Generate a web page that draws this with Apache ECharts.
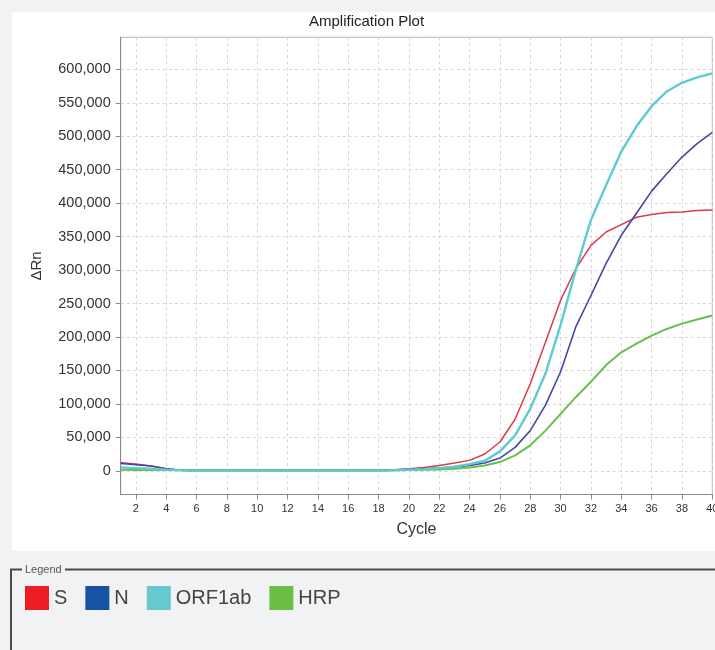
<!DOCTYPE html>
<html>
<head>
<meta charset="utf-8">
<script src="https://cdn.jsdelivr.net/npm/echarts@6/dist/echarts.min.js"></script>
<style>html,body{margin:0;padding:0;background:#f1f2f4;}#c{width:715px;height:650px;}</style>
</head>
<body>
<div id="c"></div>
<script>
const cycles = [1,2,3,4,5,6,7,8,9,10,11,12,13,14,15,16,17,18,19,20,21,22,23,24,25,26,27,28,29,30,31,32,33,34,35,36,37,38,39,40];
const S = [12000,10000,7000,3000,800,0,-300,-300,-300,-300,-300,-300,-300,-300,-300,-300,-200,500,1500,3000,5000,8000,11500,15500,25000,43000,77000,130000,192000,255000,302000,337000,357000,368000,379000,383000,386000,387000,389000,390000];
const N = [11000,9000,7000,3000,800,0,-300,-300,-300,-300,-300,-300,-300,-300,-300,-300,-200,300,1000,2000,3000,4000,5500,8000,11500,19000,35000,60000,98000,148000,215000,262000,310000,352000,385000,418000,444000,469000,489000,506000];
const ORF1ab = [5000,4000,3000,1500,500,0,0,0,0,0,0,0,0,0,0,0,0,0,500,1500,2500,4000,6000,10000,15000,29000,53000,93000,145000,218000,300000,375000,427000,477000,515000,545000,567000,580000,588000,594000];
const HRP = [1500,1200,1000,1000,1000,1000,1000,1000,1000,1000,1000,1000,1000,1000,1000,1000,1000,1000,1000,1200,1500,2000,3000,5000,8000,13000,23000,38000,60000,85000,110000,133000,158000,177000,190000,202000,212000,220000,226000,232000];
const xTicks = [2,4,6,8,10,12,14,16,18,20,22,24,26,28,30,32,34,36,38,40];
const yTicks = [0,50000,100000,150000,200000,250000,300000,350000,400000,450000,500000,550000,600000];
const seriesNames = ['S','N','ORF1ab','HRP'];
const lineColors = ['#de3a4a','#4646a8','#5ecbd3','#68bf50'];
const legendColors = ['#ee1c25','#1753a5','#66c9d0','#6cbf45'];
const lineWidths = [1.5,1.6,2.4,2];
const values = [S, N, ORF1ab, HRP];

const font = 'Liberation Sans, Arial, sans-serif';
const chart = echarts.init(document.getElementById('c'), null, {renderer:'canvas'});
chart.setOption({
  backgroundColor: '#f1f2f4',
  animation: false,
  textStyle: {fontFamily: font},
  title: {
    text: 'Amplification Plot', left: 309, top: 14, padding: 0,
    textStyle: {fontSize: 15, fontWeight: 'normal', color: '#222', fontFamily: font}
  },
  graphic: [
    {type:'rect', z:-10, shape:{x:12, y:12, width:703, height:539}, style:{fill:'#ffffff'}},
    {type:'polyline', z:-5, shape:{points:[[65,569.5],[715,569.5]]}, style:{stroke:'#4a4a4a', lineWidth:2}},
    {type:'polyline', z:-5, shape:{points:[[22,569.5],[11,569.5],[11,650]]}, style:{stroke:'#4a4a4a', lineWidth:2}},
    {type:'text', z:-5, x:25, y:569.5, style:{text:'Legend', fontSize:11, fill:'#555', fontFamily:font, verticalAlign:'middle'}}
  ],
  legend: {
    left: 25, top: 586, padding: 0, itemWidth: 24, itemHeight: 24, itemGap: 18,
    icon: 'rect', selectedMode: false,
    itemStyle: {borderWidth: 0},
    textStyle: {fontSize: 20, color: '#444', fontFamily: font},
    data: seriesNames.map((n,i)=>({name:n, itemStyle:{color:legendColors[i], borderWidth:0}}))
  },
  grid: {left: 120.7, right: 2.7, top: 37.3, bottom: 155.5, show: true, borderColor: '#b5b5b5', borderWidth: 1,
    backgroundColor: 'transparent', containLabel: false, outerBoundsMode: 'none'},
  xAxis: {
    type: 'value', min: 1, max: 40,
    name: 'Cycle', nameLocation: 'middle', nameGap: 27,
    nameTextStyle: {fontSize: 16, color: '#333', fontFamily: font},
    axisLine: {show: true, onZero: false, lineStyle: {color: '#8a8a8a'}},
    axisTick: {show: true, length: 5, customValues: xTicks, lineStyle: {color: '#8a8a8a'}},
    axisLabel: {customValues: xTicks, fontSize: 11, color: '#333', margin: 9, fontFamily: font, hideOverlap: false},
    splitLine: {show: true, lineStyle: {type: [3,3], color: '#d6d6d6'}}
  },
  yAxis: {
    type: 'value', min: -35500, max: 648000,
    name: 'ΔRn', nameLocation: 'middle', nameGap: 76, nameRotate: 90,
    nameTextStyle: {fontSize: 15, color: '#333', fontFamily: font},
    axisLine: {show: true, onZero: false, lineStyle: {color: '#8a8a8a'}},
    axisTick: {show: true, length: 5, customValues: yTicks, lineStyle: {color: '#8a8a8a'}},
    axisLabel: {customValues: yTicks, fontSize: 14.5, color: '#333', margin: 10, fontFamily: font,
      formatter: v => Number(v).toLocaleString('en-US')},
    splitLine: {show: true, lineStyle: {type: [3,3], color: '#d6d6d6'}}
  },
  series: seriesNames.map((n,i)=>({
    name: n, type: 'line', showSymbol: false, symbol: 'none', smooth: false,
    z: i === 2 ? 4 : 3,
    itemStyle: {color: lineColors[i]},
    lineStyle: {color: lineColors[i], width: lineWidths[i]},
    data: cycles.map((c,k)=>[c, values[i][k]])
  }))
});
</script>
</body>
</html>
